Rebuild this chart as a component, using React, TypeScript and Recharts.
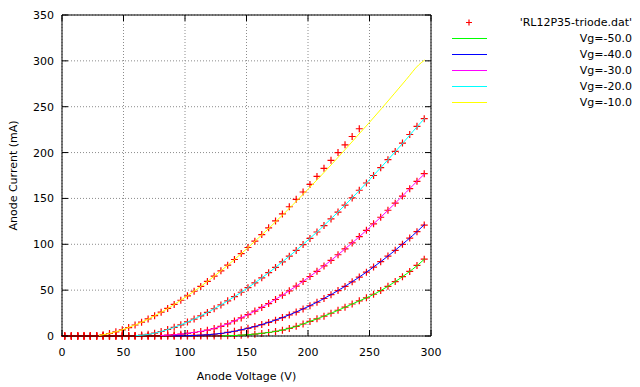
import React from 'react';
import {
  ComposedChart,
  Line,
  Scatter,
  XAxis,
  YAxis,
  CartesianGrid,
  ReferenceLine,
  Legend,
} from 'recharts';

// ---------- data ----------
const anodeVoltage = [
  2.2, 7.6, 12.8, 17.9, 23.0, 28.2, 33.4, 38.6, 43.8, 49.0,
  54.2, 59.4, 64.7, 70.0, 75.3, 80.6, 85.9, 91.2, 96.6, 102.0,
  107.4, 112.8, 118.2, 123.7, 129.2, 134.7, 140.2, 145.7, 151.2, 156.8,
  162.4, 168.0, 173.6, 179.2, 184.8, 190.4, 196.0, 201.6, 207.3, 213.0,
  218.7, 224.4, 230.1, 235.9, 241.7, 247.5, 253.3, 259.1, 265.0, 270.9,
  276.8, 282.7, 288.6, 294.5,
];

const measuredVgMinus50 = [
  0, 0, 0, 0, 0, 0, 0, 0, 0, 0,
  0, 0, 0, 0, 0, 0, 0, 0, 0, 0,
  0, 0, 0, 0, 0.1, 0.2, 0.5, 0.9, 1.4, 2.0,
  2.8, 3.8, 5.0, 6.4, 8.3, 10.5, 13.1, 15.9, 18.7, 21.6,
  24.8, 28.1, 31.4, 34.9, 38.3, 41.6, 45.5, 49.5, 54.2, 59.3,
  64.7, 70.4, 77.0, 83.8,
];
const measuredVgMinus40 = [
  0, 0, 0, 0, 0, 0, 0, 0, 0, 0,
  0, 0, 0, 0, 0, 0, 0, 0.1, 0.2, 0.4,
  0.6, 0.9, 1.3, 1.9, 2.7, 3.9, 5.2, 6.7, 8.4, 10.3,
  12.5, 14.8, 17.3, 20.1, 23.0, 26.1, 29.5, 33.0, 36.8, 40.9,
  45.1, 49.5, 54.1, 59.1, 64.3, 69.6, 75.2, 81.0, 87.1, 93.4,
  100.0, 106.8, 113.8, 121.0,
];
const measuredVgMinus30 = [
  0, 0, 0, 0, 0, 0, 0, 0, 0, 0,
  0, 0, 0, 0.1, 0.3, 0.5, 0.9, 1.4, 2.0, 2.8,
  3.8, 4.9, 6.3, 8.1, 10.5, 13.3, 16.4, 19.7, 23.3, 27.2,
  31.2, 35.4, 39.8, 44.5, 49.3, 54.4, 59.5, 64.9, 70.5, 76.4,
  82.4, 88.6, 94.9, 101.5, 108.4, 115.2, 122.3, 129.5, 137.1, 144.8,
  152.6, 160.6, 168.7, 177.0,
];
const measuredVgMinus20 = [
  0, 0, 0, 0, 0, 0, 0, 0, 0, 0,
  0.2, 0.5, 1.0, 1.9, 3.1, 4.9, 7.1, 9.5, 12.2, 15.3,
  18.5, 22.0, 25.7, 29.7, 33.9, 38.3, 42.9, 47.7, 52.7, 57.9,
  63.4, 69.0, 74.8, 80.8, 87.0, 93.3, 99.7, 106.4, 113.4, 120.4,
  127.7, 135.1, 142.7, 150.6, 158.9, 166.8, 175.0, 183.5, 192.3, 201.2,
  210.4, 219.7, 228.6, 237.0,
];
const measuredVgMinus10 = [
  0, 0, 0, 0, 0, 0.3, 1.3, 2.7, 4.5, 6.7,
  9.2, 12.0, 15.1, 18.6, 22.2, 26.0, 30.1, 34.4, 39.0, 43.8,
  48.8, 54.1, 59.5, 65.2, 71.1, 77.2, 83.4, 89.9, 96.5, 103.4,
  110.6, 117.9, 125.5, 133.1, 140.9, 149.0, 157.0, 165.3, 174.0, 182.8,
  191.5, 200.0, 208.5, 217.5, 226.0, null, null, null, null, null,
  null, null, null, null,
];

const lineVoltage = [
  0, 10, 20, 30, 40, 50, 60, 70, 80, 90, 100, 110, 120, 130, 140, 150,
  160, 170, 180, 190, 200, 210, 220, 230, 240, 250, 260, 270, 280, 290, 295,
];
const modelVgMinus50 = [
  null, null, null, null, null, null, null, null, null, null, null, null, null,
  0.1, 0.5, 1.3, 2.5, 4.2, 6.7, 10.3, 15.1, 20.1, 25.5, 31.3, 37.3, 43.1,
  50.2, 58.5, 67.7, 78.2, 84.2,
];
const modelVgMinus40 = [
  null, null, null, null, null, null, null, null, null, 0.1, 0.3, 0.7, 1.5,
  2.9, 5.1, 8.0, 11.5, 15.7, 20.5, 25.9, 32.0, 38.7, 46.1, 54.1, 62.7, 72.0,
  81.9, 92.5, 103.7, 115.5, 122.0,
];
const modelVgMinus30 = [
  null, null, null, null, null, null, null, null, 0.5, 1.2, 2.6, 4.4, 7.0,
  10.9, 16.4, 22.5, 29.4, 37.0, 45.2, 54.0, 63.4, 73.3, 83.8, 94.8, 106.2,
  118.2, 130.6, 143.6, 156.9, 170.6, 177.0,
];
const modelVgMinus20 = [
  null, null, null, null, null, null, 0.4, 1.7, 4.7, 8.9, 14.1, 20.1, 26.9,
  34.5, 42.7, 51.6, 61.0, 71.0, 81.7, 92.9, 104.6, 116.7, 129.4, 142.6,
  156.2, 170.4, 184.8, 199.5, 214.8, 230.2, 237.5,
];
const modelVgMinus10 = [
  null, null, null, 0.6, 3.2, 7.3, 12.3, 18.4, 25.4, 33.3, 42.0, 51.3, 61.3,
  71.9, 83.1, 94.9, 107.2, 119.8, 132.8, 146.2, 160.0, 174.0, 188.3, 203.0,
  218.0, 233.0, 248.3, 264.0, 279.8, 295.6, 301.0,
];

const xTicks = [0, 50, 100, 150, 200, 250, 300];
const yTicks = [0, 50, 100, 150, 200, 250, 300, 350];
const dataFileName = "'RL12P35-triode.dat'";
const seriesNames = ['Vg=-50.0', 'Vg=-40.0', 'Vg=-30.0', 'Vg=-20.0', 'Vg=-10.0'];
const seriesColors = ['#00ff00', '#0000ff', '#ff00ff', '#00ffff', '#ffff00'];
const xTitle = 'Anode Voltage (V)';
const yTitle = 'Anode Current (mA)';

// ---------- derived tables ----------
const measuredSets = [
  measuredVgMinus50,
  measuredVgMinus40,
  measuredVgMinus30,
  measuredVgMinus20,
  measuredVgMinus10,
];
const modelSets = [
  modelVgMinus50,
  modelVgMinus40,
  modelVgMinus30,
  modelVgMinus20,
  modelVgMinus10,
];
const crossPoints = measuredSets.flatMap((set) =>
  set
    .map((i, k) => ({ v: anodeVoltage[k], i }))
    .filter((p) => p.i !== null)
);
const modelRows = modelSets.map((set) =>
  lineVoltage.map((v, k) => ({ v, i: set[k] }))
);

// ---------- layout ----------
const FONT = 'DejaVu Sans';
const FS = 11;
const PLOT_TOP = 15;
const PLOT_LEFT = 62;
const PLOT_RIGHT = 431;
const TICK = 6;

const Cross = (props: any) => {
  const { cx, cy } = props;
  if (cx == null || cy == null) return null;
  const a = 3.5;
  return (
    <path
      d={`M${cx - a},${cy}H${cx + a}M${cx},${cy - a}V${cy + a}`}
      stroke="#ff0000"
      strokeWidth={1.2}
      fill="none"
    />
  );
};

const XTick = (props: any) => {
  const { x, y, payload } = props;
  return (
    <g>
      <line x1={x} y1={y} x2={x} y2={y - TICK} stroke="#000" strokeWidth={1} />
      <line x1={x} y1={PLOT_TOP} x2={x} y2={PLOT_TOP + TICK} stroke="#000" strokeWidth={1} />
      <text
        x={x}
        y={y + 20}
        textAnchor="middle"
        fontFamily={FONT}
        fontSize={FS}
        fill="#000"
      >
        {payload.value}
      </text>
    </g>
  );
};

const YTick = (props: any) => {
  const { x, y, payload } = props;
  return (
    <g>
      <line x1={PLOT_LEFT} y1={y} x2={PLOT_LEFT + TICK} y2={y} stroke="#000" strokeWidth={1} />
      <line x1={PLOT_RIGHT} y1={y} x2={PLOT_RIGHT - TICK} y2={y} stroke="#000" strokeWidth={1} />
      <text
        x={x - 8}
        y={y}
        dy="0.36em"
        textAnchor="end"
        fontFamily={FONT}
        fontSize={FS}
        fill="#000"
      >
        {payload.value}
      </text>
    </g>
  );
};

const XTitle = (props: any) => {
  const vb = props.viewBox || { x: 62, y: 336, width: 369, height: 30 };
  return (
    <text
      x={vb.x + vb.width / 2}
      y={vb.y + 44}
      textAnchor="middle"
      fontFamily={FONT}
      fontSize={FS}
      fill="#000"
    >
      {xTitle}
    </text>
  );
};

const YTitle = (props: any) => {
  const vb = props.viewBox || { x: 22, y: 15, width: 40, height: 321 };
  const cx = 13;
  const cy = vb.y + vb.height / 2;
  return (
    <text
      x={cx}
      y={cy}
      dy="0.36em"
      textAnchor="middle"
      transform={`rotate(-90, ${cx}, ${cy})`}
      fontFamily={FONT}
      fontSize={FS}
      fill="#000"
    >
      {yTitle}
    </text>
  );
};

const LegendBox = () => {
  const rowY = (k: number) => 22.5 + 16 * k;
  const textRight = 192;
  return (
    <svg width={200} height={115} style={{ display: 'block' }}>
      <path
        d={`M${29 - 3},${rowY(0)}H${29 + 3}M29,${rowY(0) - 3}V${rowY(0) + 3}`}
        stroke="#ff0000"
        strokeWidth={1.2}
      />
      <text
        x={textRight}
        y={rowY(0)}
        dy="0.36em"
        textAnchor="end"
        fontFamily={FONT}
        fontSize={FS}
        fill="#000"
      >
        {dataFileName}
      </text>
      {seriesNames.map((name, k) => (
        <g key={name}>
          <line
            x1={12}
            x2={47}
            y1={rowY(k + 1)}
            y2={rowY(k + 1)}
            stroke={seriesColors[k]}
            strokeWidth={1}
          />
          <text
            x={textRight}
            y={rowY(k + 1)}
            dy="0.36em"
            textAnchor="end"
            fontFamily={FONT}
            fontSize={FS}
            fill="#000"
          >
            {name}
          </text>
        </g>
      ))}
    </svg>
  );
};

const ScatterAny = Scatter as any;
const LineAny = Line as any;

export default function App() {
  return (
    <div
      style={{
        position: 'absolute',
        left: 0,
        top: 0,
        width: 640,
        height: 387,
        background: '#fff',
      }}
    >
      <ComposedChart
        width={640}
        height={387}
        margin={{ top: 15, right: 209, bottom: 21, left: 22 }}
      >
        <CartesianGrid
          stroke="#8c8c8c"
          strokeDasharray="1 2"
          strokeWidth={1}
        />
        <XAxis
          type="number"
          dataKey="v"
          domain={[0, 300]}
          ticks={xTicks}
          interval={0}
          height={30}
          tickSize={0}
          tickMargin={0}
          tickLine={false}
          axisLine={{ stroke: '#000', strokeWidth: 1 }}
          tick={<XTick />}
          label={<XTitle />}
        />
        <YAxis
          type="number"
          dataKey="i"
          domain={[0, 350]}
          ticks={yTicks}
          interval={0}
          width={40}
          tickSize={0}
          tickMargin={0}
          tickLine={false}
          axisLine={{ stroke: '#000', strokeWidth: 1 }}
          tick={<YTick />}
          label={<YTitle />}
        />
        <ReferenceLine y={350} stroke="#000" strokeWidth={1} />
        <ReferenceLine x={300} stroke="#000" strokeWidth={1} />
        <ScatterAny
          name={dataFileName}
          data={crossPoints}
          dataKey="i"
          fill="#ff0000"
          shape={<Cross />}
          zIndex={300}
          isAnimationActive={false}
        />
        {modelRows.map((rows, k) => (
          <LineAny
            key={seriesNames[k]}
            name={seriesNames[k]}
            data={rows}
            dataKey="i"
            type="monotone"
            stroke={seriesColors[k]}
            strokeWidth={1}
            dot={false}
            activeDot={false}
            zIndex={700}
            isAnimationActive={false}
          />
        ))}
        <Legend
          layout="vertical"
          align="center"
          verticalAlign="middle"
          content={<LegendBox />}
          wrapperStyle={{ position: 'absolute', left: 440, top: 0, width: 200, height: 115 }}
        />
      </ComposedChart>
    </div>
  );
}
